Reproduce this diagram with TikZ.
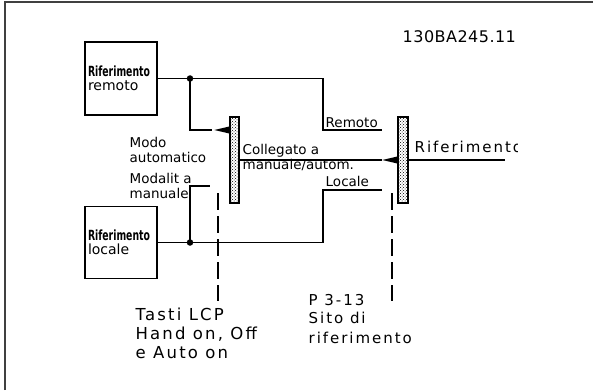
\documentclass[tikz,border=0pt]{standalone}
\usepackage{fontspec}
\usepackage{graphicx}
\setmainfont{DejaVu Sans}
\newfontfamily\widefont{DejaVu Sans}[LetterSpace=13]
\newfontfamily\codefont{DejaVu Sans}[LetterSpace=3]
\usetikzlibrary{patterns}
\begin{document}
\begin{tikzpicture}[x=1pt,y=-1pt,line width=1.4pt,
  cad/.style={font=\fontsize{13.5}{15}\selectfont,inner sep=0pt,anchor=base west},
  bigtxt/.style={font=\widefont\fontsize{16.5}{19}\selectfont,inner sep=0pt,anchor=base west},
  midtxt/.style={font=\widefont\fontsize{15}{18}\selectfont,inner sep=0pt,anchor=base west},
  refbox/.style={draw,minimum width=72pt,minimum height=73pt,inner sep=0pt,
    text width=66pt,align=left,font=\fontsize{14}{14.5}\selectfont},
  switchbar/.style={draw,pattern=crosshatch dots,minimum width=9pt,minimum height=86pt,inner sep=0pt},
  jdot/.style={circle,fill,inner sep=0pt,minimum size=6.5pt},
  guide/.style={dash pattern=on 17pt off 6pt,line width=1.3pt},
  frameline/.style={line width=2pt,draw=black!75}]
\useasboundingbox (0,0) rectangle (593,390);
% frame
\coordinate (fbl) at (4.5,390);
\coordinate (ftl) at (4.5,2);
\coordinate (ftr) at (593,2);
\draw[frameline] (fbl) -- (ftl) -- (ftr);

% boxes
\node[refbox] (rem) at (121,78.5) {\scalebox{0.665}[1]{\bfseries Riferimento}\\remoto};
\node[refbox,minimum height=72pt] (loc) at (121,242.5) {\scalebox{0.665}[1]{\bfseries Riferimento}\\locale};

% switch bars
\node[switchbar] (sw1) at (234.5,160) {};
\node[switchbar,minimum width=10pt] (sw2) at (403,160) {};

% junction dots
\node[jdot] (d1) at (190,78.5) {};
\node[jdot] (d2) at (190,242.5) {};

% free ends
\coordinate (remEnd) at (382,130);
\coordinate (autoEnd) at (212,130);
\coordinate (manEnd) at (210,186);
\coordinate (locEnd) at (382,190);
\coordinate (outEnd) at (382,160);
\coordinate (refEnd) at (505,160);

% connectors
\draw (rem.east) -- (d1.center) -- (323,78.5) -- (323,130) -- (remEnd);
\draw (d1.center) -- (190,130) -- (autoEnd);
\draw (loc.east) -- (d2.center) -- (323,242.5) -- (323,190) -- (locEnd);
\draw (d2.center) -- (190,186) -- (manEnd);
\draw (sw1.east) -- (outEnd);
\draw (sw2.east) -- (refEnd);

% pointers
\fill (sw1.west |- autoEnd) ++(0,-3.5) -- ++(-15,3.5) -- ++(15,3.5) -- cycle;
\fill (sw2.west |- outEnd) ++(0,-3.5) -- ++(-15,3.5) -- ++(15,3.5) -- cycle;

% dashed guides
\coordinate (g1a) at (218,193);
\coordinate (g1b) at (218,301);
\coordinate (g2a) at (392,193);
\coordinate (g2b) at (392,301);
\draw[guide] (g1a) -- (g1b);
\draw[guide] (g2a) -- (g2b);

% labels
\node[cad] (modo1) at (129,147) {Modo};
\node[cad] (modo2) at (129,162) {automatico};
\node[cad] (mod1) at (129,183) {Modalit\kern4pt a};
\node[cad] (mod2) at (129,198) {manuale};
\node[cad] (remo) at (325,127.5) {Remoto};
\node[cad] (coll1) at (242,154) {Collegato a};
\node[cad] (coll2) at (242,169) {manuale/autom.};
\node[cad] (loca) at (325,186.5) {Locale};
\node[font=\codefont\fontsize{16}{19}\selectfont,inner sep=0pt,anchor=base west] (code) at (402,43) {130BA245.11};
\begin{scope}
\clip (408,100) rectangle (517,170);
\node[midtxt] (rif) at (414,152) {Riferimento};
\end{scope}
\node[bigtxt] (t1) at (135,320) {Tasti LCP};
\node[bigtxt] (t2) at (135,339) {Hand on, Off};
\node[bigtxt] (t3) at (135,358) {e Auto on};
\node[midtxt] (p1) at (308,305) {P 3-13};
\node[midtxt] (p2) at (308,323.5) {Sito di};
\node[midtxt] (p3) at (308,343) {riferimento};
\end{tikzpicture}
\end{document}
